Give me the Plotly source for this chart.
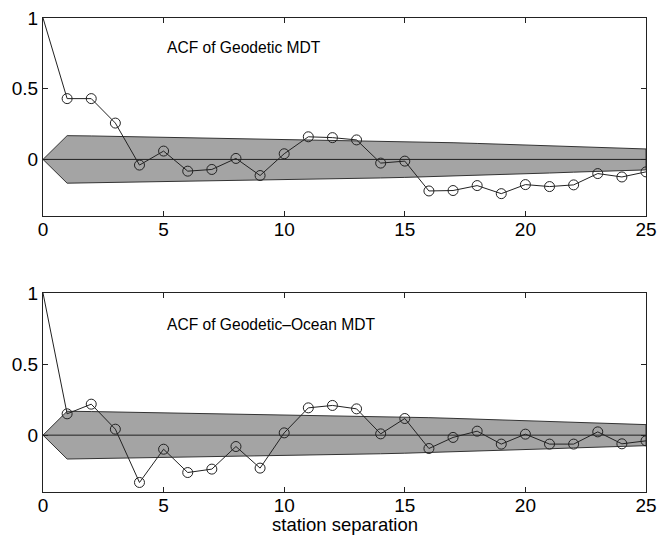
import plotly.graph_objects as go

lags = list(range(0, 26))
acf_geodetic = [1.0, 0.43, 0.43, 0.257, -0.04, 0.059, -0.083, -0.071, 0.007, -0.114,
                0.04, 0.16, 0.154, 0.138, -0.026, -0.012, -0.223, -0.22, -0.185, -0.242,
                -0.178, -0.192, -0.18, -0.1, -0.124, -0.088]
acf_geo_ocean = [1.0, 0.150, 0.218, 0.042, -0.333, -0.099, -0.263, -0.239, -0.080, -0.232,
                 0.016, 0.192, 0.209, 0.185, 0.009, 0.117, -0.094, -0.016, 0.028, -0.063,
                 0.007, -0.063, -0.063, 0.023, -0.061, -0.040]
conf_band = [0.0, 0.168, 0.166, 0.163, 0.161, 0.158, 0.156, 0.153, 0.150, 0.147,
             0.144, 0.141, 0.138, 0.134, 0.131, 0.127, 0.123, 0.118, 0.113, 0.108,
             0.102, 0.096, 0.090, 0.084, 0.078, 0.074]
titles = ["ACF of Geodetic MDT", "ACF of Geodetic\u2013Ocean MDT"]
x_label = "station separation"
y_ticks = [0, 0.5, 1]
y_ticktext = ["0", "0.5", "1"]
x_ticks = [0, 5, 10, 15, 20, 25]

FONT = "Liberation Sans, Arial, Helvetica, sans-serif"

fig = go.Figure()
series = [acf_geodetic, acf_geo_ocean]
axes = [("x", "y"), ("x2", "y2")]
for s, (xa, ya) in zip(series, axes):
    band_x = lags + lags[::-1]
    band_y = conf_band + [-v for v in conf_band[::-1]]
    fig.add_trace(go.Scatter(x=band_x, y=band_y, fill="toself", fillcolor="#a4a4a4",
                             line=dict(color="#333333", width=1), mode="lines",
                             xaxis=xa, yaxis=ya, showlegend=False, hoverinfo="skip"))
    fig.add_trace(go.Scatter(x=[lags[0], lags[-1]], y=[0, 0], mode="lines",
                             line=dict(color="#222222", width=1),
                             xaxis=xa, yaxis=ya, showlegend=False))
    fig.add_trace(go.Scatter(x=lags, y=s, mode="lines",
                             line=dict(color="#222222", width=1),
                             xaxis=xa, yaxis=ya, showlegend=False))
    fig.add_trace(go.Scatter(x=lags[1:], y=s[1:], mode="markers",
                             marker=dict(symbol="circle-open", size=10,
                                         line=dict(color="#222222", width=1), color="#222222"),
                             xaxis=xa, yaxis=ya, showlegend=False))

axis_common = dict(showgrid=False, zeroline=False, showline=True, linecolor="#222222",
                   linewidth=1, mirror="allticks", ticks="inside", ticklen=5,
                   tickcolor="#222222", automargin=False,
                   tickfont=dict(family=FONT, size=19, color="black"))

fig.update_layout(
    width=657, height=537,
    margin=dict(l=43, r=11, t=18, b=45),
    paper_bgcolor="white", plot_bgcolor="white",
    xaxis=dict(domain=[0, 1], range=[0, 25], tickvals=x_ticks, anchor="y",
               ticklabelstandoff=-4, **axis_common),
    yaxis=dict(domain=[0.5823, 1], range=[-0.4, 1], tickvals=y_ticks, ticktext=y_ticktext,
               anchor="x", **axis_common),
    xaxis2=dict(domain=[0, 1], range=[0, 25], tickvals=x_ticks, anchor="y2",
                ticklabelstandoff=-4, **axis_common),
    yaxis2=dict(domain=[0, 0.4198], range=[-0.4, 1], tickvals=y_ticks, ticktext=y_ticktext,
                anchor="x2", **axis_common),
    annotations=[
        dict(text=titles[0], x=5.06, y=0.79, xref="x", yref="y", xanchor="left",
             yanchor="middle", showarrow=False, font=dict(family=FONT, size=15.6, color="black")),
        dict(text=titles[1], x=5.06, y=0.78, xref="x2", yref="y2", xanchor="left",
             yanchor="middle", showarrow=False, font=dict(family=FONT, size=15.6, color="black")),
        dict(text=x_label, x=0.5, y=-0.068, xref="paper", yref="paper", xanchor="center",
             yanchor="middle", showarrow=False, font=dict(family=FONT, size=18.5, color="black")),
    ],
)

fig.write_html("out.html")
